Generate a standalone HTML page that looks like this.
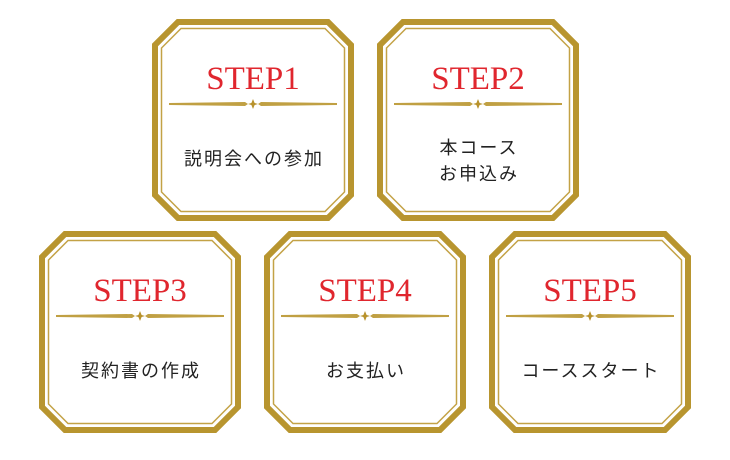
<!DOCTYPE html>
<html><head><meta charset="utf-8"><style>
html,body{margin:0;padding:0;background:#fff;}
svg{display:block}
.t{font-family:"Liberation Serif",serif;font-size:33px;fill:#e0262e;text-anchor:middle}
.j{font-family:"Liberation Sans","Noto Sans CJK JP",sans-serif;font-size:18px;fill:#222;text-anchor:middle;letter-spacing:2px}
</style></head><body>
<svg width="730" height="460" viewBox="0 0 730 460" xmlns="http://www.w3.org/2000/svg">
<defs>
<g id="box">
<polygon points="26,3 176,3 199,26 199,176 176,199 26,199 3,176 3,26" fill="#fff" stroke="#b8952f" stroke-width="6"/>
<polygon points="29,9.5 173,9.5 192.5,29 192.5,173 173,192.5 29,192.5 9.5,173 9.5,29" fill="none" stroke="#c3a246" stroke-width="1.5"/>
<polygon points="17,84 93,83 96,85 93,87 17,86" fill="#c0a043"/>
<polygon points="185,84 109,83 106,85 109,87 185,86" fill="#c0a043"/>
<polygon points="101,80 103,85 101,90 99,85" fill="#b8922c"/>
<polygon points="96,85 101,83.5 106,85 101,86.5" fill="#b8922c"/>
</g>
</defs>
<use href="#box" x="152" y="19"/>
<use href="#box" x="377" y="19"/>
<use href="#box" x="39" y="231"/>
<use href="#box" x="264" y="231"/>
<use href="#box" x="489" y="231"/>
<text class="t" x="253" y="89">STEP1</text>
<text class="t" x="478" y="89">STEP2</text>
<text class="t" x="140" y="301">STEP3</text>
<text class="t" x="365" y="301">STEP4</text>
<text class="t" x="590" y="301">STEP5</text>
<text class="j" x="254" y="165">説明会への参加</text>
<text class="j" x="479" y="154">本コース</text>
<text class="j" x="479" y="180">お申込み</text>
<text class="j" x="141" y="377">契約書の作成</text>
<text class="j" x="366" y="377">お支払い</text>
<text class="j" x="591" y="377">コーススタート</text>
</svg>
</body></html>
